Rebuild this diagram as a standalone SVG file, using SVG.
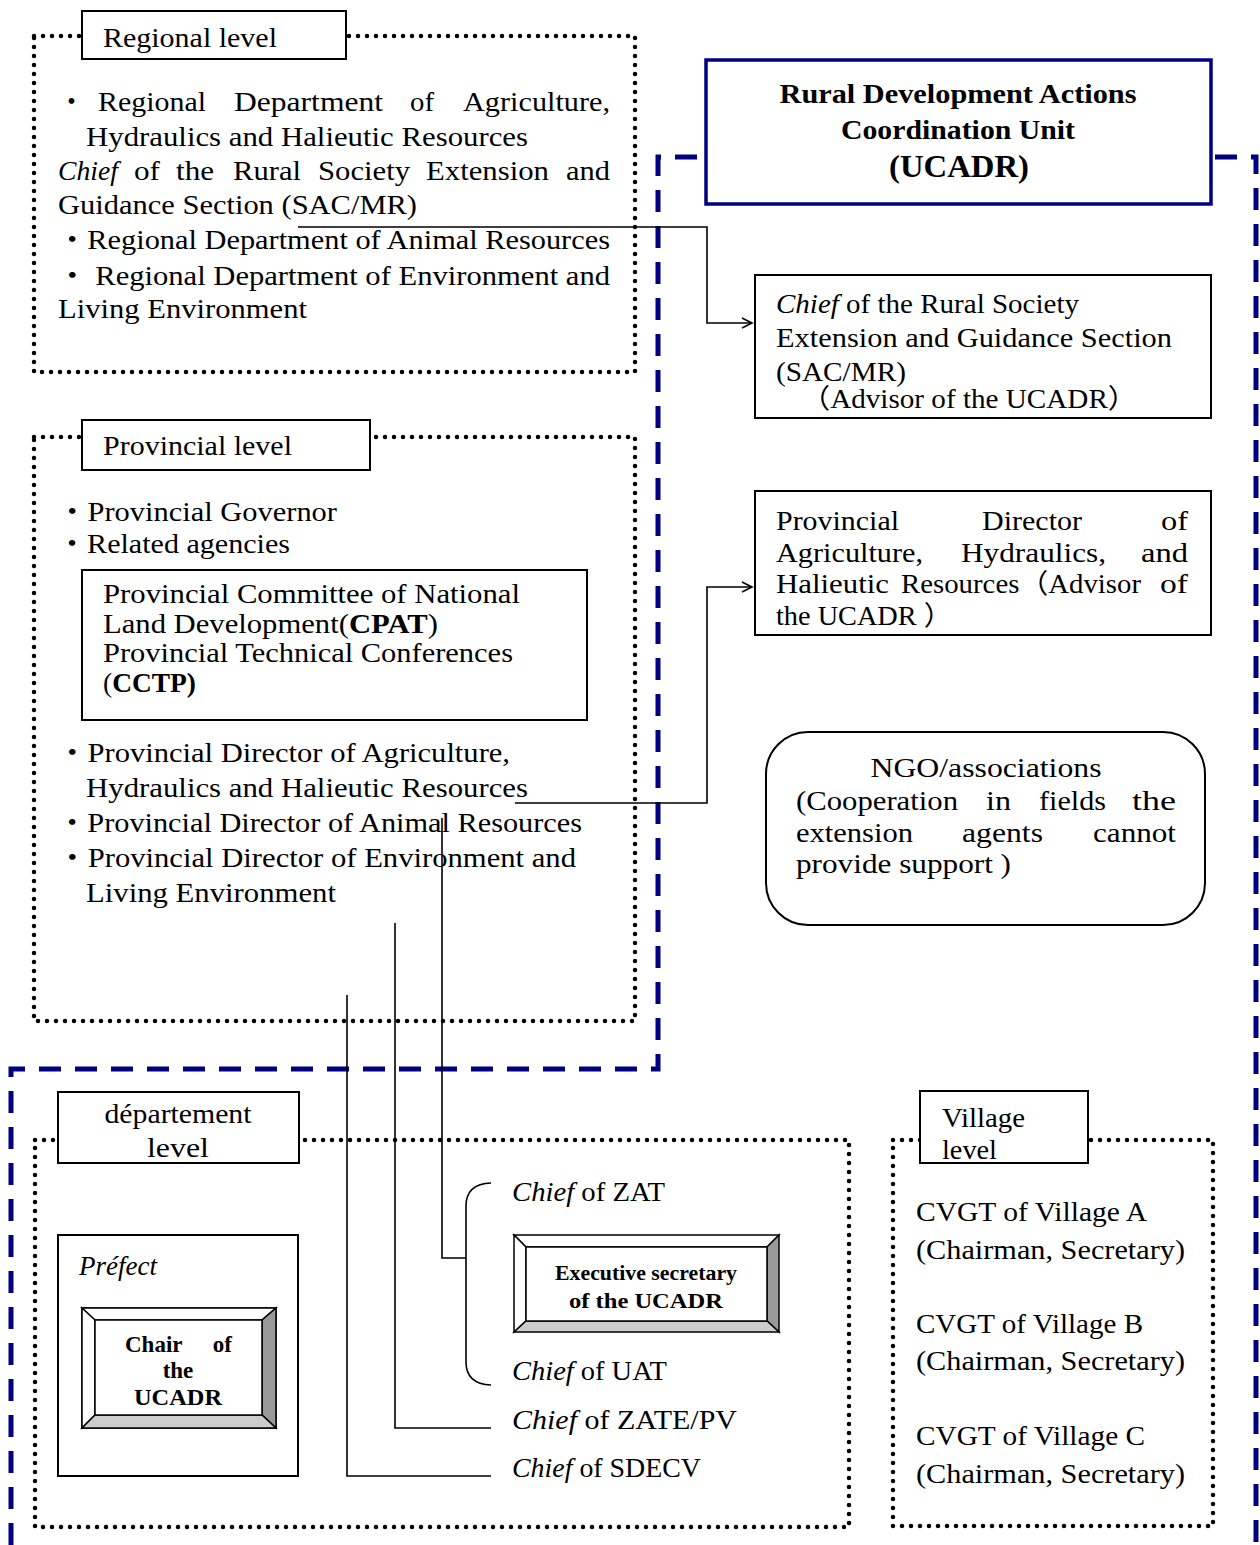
<svg xmlns="http://www.w3.org/2000/svg" width="1260" height="1545" viewBox="0 0 1260 1545">
<style>
.t{font-family:"Liberation Serif","Noto Sans CJK JP",serif;font-size:27px;fill:#000}
.b{font-weight:bold}
.i{font-style:italic}
.dot{fill:none;stroke:#000;stroke-width:4.5;stroke-dasharray:0 9;stroke-linecap:round}
.lab{fill:#fff;stroke:#000;stroke-width:2}
.box{fill:#fff;stroke:#000;stroke-width:2}
.con{fill:none;stroke:#000;stroke-width:1.6}
.blue{fill:none;stroke:#000080;stroke-width:5;stroke-dasharray:22 14}
.bv{stroke:#000;stroke-width:1.5}
</style>
<defs>
<marker id="arr" markerUnits="userSpaceOnUse" markerWidth="14" markerHeight="14" refX="11" refY="6" orient="auto">
<path d="M1,1 L11,6 L1,11" fill="none" stroke="#000" stroke-width="1.6"/>
</marker>
<clipPath id="cDept"><rect x="58" y="1092" width="241" height="68"/></clipPath>
<clipPath id="cVil"><rect x="920" y="1091" width="168" height="69"/></clipPath>
</defs>
<rect width="1260" height="1545" fill="#fff"/>

<g id="ucadr-frame">
<path class="blue" d="M11,1545 V1069 H658 V157 H1256 V1545"/>
</g>

<g id="regional-level">
<rect class="dot" x="34" y="36" width="601" height="336"/>
<rect class="lab" x="82" y="11" width="264" height="48"/>
<text class="t" x="103" y="47" textLength="174" lengthAdjust="spacingAndGlyphs">Regional level</text>
<text class="t" x="58" y="111">・</text>
<text class="t" x="98" y="111" textLength="108" lengthAdjust="spacingAndGlyphs">Regional</text>
<text class="t" x="234" y="111" textLength="149" lengthAdjust="spacingAndGlyphs">Department</text>
<text class="t" x="410" y="111" textLength="24" lengthAdjust="spacingAndGlyphs">of</text>
<text class="t" x="463" y="111" textLength="147" lengthAdjust="spacingAndGlyphs">Agriculture,</text>
<text class="t" x="86" y="146" textLength="442" lengthAdjust="spacingAndGlyphs">Hydraulics and Halieutic Resources</text>
<text class="t i" x="58" y="180" textLength="60" lengthAdjust="spacingAndGlyphs">Chief</text>
<text class="t" x="134" y="180" textLength="26" lengthAdjust="spacingAndGlyphs">of</text>
<text class="t" x="176" y="180" textLength="38" lengthAdjust="spacingAndGlyphs">the</text>
<text class="t" x="233" y="180" textLength="68" lengthAdjust="spacingAndGlyphs">Rural</text>
<text class="t" x="318" y="180" textLength="92" lengthAdjust="spacingAndGlyphs">Society</text>
<text class="t" x="426" y="180" textLength="123" lengthAdjust="spacingAndGlyphs">Extension</text>
<text class="t" x="566" y="180" textLength="44" lengthAdjust="spacingAndGlyphs">and</text>
<text class="t" x="58" y="214" textLength="359" lengthAdjust="spacingAndGlyphs">Guidance Section (SAC/MR)</text>
<text class="t" x="57" y="249" textLength="553" lengthAdjust="spacingAndGlyphs">・Regional Department of Animal Resources</text>
<text class="t" x="57" y="285" textLength="553" lengthAdjust="spacingAndGlyphs">・ Regional Department of Environment and</text>
<text class="t" x="58" y="318" textLength="249" lengthAdjust="spacingAndGlyphs">Living Environment</text>
</g>

<g id="provincial-level">
<rect class="dot" x="34" y="437" width="601" height="584"/>
<rect class="lab" x="82" y="420" width="288" height="50"/>
<text class="t" x="103" y="455" textLength="189" lengthAdjust="spacingAndGlyphs">Provincial level</text>
<text class="t" x="57" y="521" textLength="280" lengthAdjust="spacingAndGlyphs">・Provincial Governor</text>
<text class="t" x="57" y="553" textLength="233" lengthAdjust="spacingAndGlyphs">・Related agencies</text>
<text class="t" x="57" y="762" textLength="453" lengthAdjust="spacingAndGlyphs">・Provincial Director of Agriculture,</text>
<text class="t" x="86" y="797" textLength="442" lengthAdjust="spacingAndGlyphs">Hydraulics and Halieutic Resources</text>
<text class="t" x="57" y="832" textLength="525" lengthAdjust="spacingAndGlyphs">・Provincial Director of Animal Resources</text>
<text class="t" x="57" y="867" textLength="519" lengthAdjust="spacingAndGlyphs">・Provincial Director of Environment and</text>
<text class="t" x="86" y="902" textLength="250" lengthAdjust="spacingAndGlyphs">Living Environment</text>
</g>

<g id="cpat-cctp">
<rect class="box" x="82" y="570" width="505" height="150"/>
<text class="t" x="103" y="603" textLength="417" lengthAdjust="spacingAndGlyphs">Provincial Committee of National</text>
<text class="t" x="103" y="633" textLength="335" lengthAdjust="spacingAndGlyphs">Land Development(<tspan class="b">CPAT</tspan>)</text>
<text class="t" x="103" y="662" textLength="410" lengthAdjust="spacingAndGlyphs">Provincial Technical Conferences</text>
<text class="t" x="103" y="692" textLength="93" lengthAdjust="spacingAndGlyphs">(<tspan class="b">CCTP)</tspan></text>
</g>

<g id="ucadr">
<rect x="706" y="60" width="505" height="144" fill="#fff" stroke="#000080" stroke-width="3.5"/>
<text class="t b" x="958" y="103" text-anchor="middle" textLength="357" lengthAdjust="spacingAndGlyphs">Rural Development Actions</text>
<text class="t b" x="958" y="139" text-anchor="middle" textLength="234" lengthAdjust="spacingAndGlyphs">Coordination Unit</text>
<text class="t b" x="959" y="177" text-anchor="middle" style="font-size:31px" textLength="140" lengthAdjust="spacingAndGlyphs">(UCADR)</text>
</g>

<g id="sac-mr-advisor">
<rect class="box" x="755" y="275" width="456" height="143"/>
<text class="t" x="776" y="313" textLength="303" lengthAdjust="spacingAndGlyphs"><tspan class="i">Chief</tspan> of the Rural Society</text>
<text class="t" x="776" y="347" textLength="396" lengthAdjust="spacingAndGlyphs">Extension and Guidance Section</text>
<text class="t" x="776" y="381" textLength="130" lengthAdjust="spacingAndGlyphs">(SAC/MR)</text>
<text class="t" x="801" y="408" textLength="336" lengthAdjust="spacingAndGlyphs">（Advisor of the UCADR）</text>
</g>

<g id="provincial-director-advisor">
<rect class="box" x="755" y="491" width="456" height="144"/>
<text class="t" x="776" y="530" textLength="123" lengthAdjust="spacingAndGlyphs">Provincial</text>
<text class="t" x="982" y="530" textLength="100" lengthAdjust="spacingAndGlyphs">Director</text>
<text class="t" x="1161" y="530" textLength="27" lengthAdjust="spacingAndGlyphs">of</text>
<text class="t" x="776" y="562" textLength="147" lengthAdjust="spacingAndGlyphs">Agriculture,</text>
<text class="t" x="961" y="562" textLength="145" lengthAdjust="spacingAndGlyphs">Hydraulics,</text>
<text class="t" x="1141" y="562" textLength="47" lengthAdjust="spacingAndGlyphs">and</text>
<text class="t" x="776" y="593" textLength="113" lengthAdjust="spacingAndGlyphs">Halieutic</text>
<text class="t" x="901" y="593" textLength="240" lengthAdjust="spacingAndGlyphs">Resources（Advisor</text>
<text class="t" x="1160" y="593" textLength="28" lengthAdjust="spacingAndGlyphs">of</text>
<text class="t" x="776" y="625" textLength="176" lengthAdjust="spacingAndGlyphs">the UCADR ）</text>
</g>

<g id="ngo">
<rect class="box" x="766" y="732" width="439" height="193" rx="42" ry="42"/>
<text class="t" x="986" y="777" text-anchor="middle" textLength="231" lengthAdjust="spacingAndGlyphs">NGO/associations</text>
<text class="t" x="796" y="810" textLength="162" lengthAdjust="spacingAndGlyphs">(Cooperation</text>
<text class="t" x="986" y="810" textLength="25" lengthAdjust="spacingAndGlyphs">in</text>
<text class="t" x="1039" y="810" textLength="67" lengthAdjust="spacingAndGlyphs">fields</text>
<text class="t" x="1132" y="810" textLength="44" lengthAdjust="spacingAndGlyphs">the</text>
<text class="t" x="796" y="842" textLength="117" lengthAdjust="spacingAndGlyphs">extension</text>
<text class="t" x="962" y="842" textLength="81" lengthAdjust="spacingAndGlyphs">agents</text>
<text class="t" x="1093" y="842" textLength="83" lengthAdjust="spacingAndGlyphs">cannot</text>
<text class="t" x="796" y="873" textLength="215" lengthAdjust="spacingAndGlyphs">provide support )</text>
</g>

<g id="department-level">
<rect class="dot" x="35" y="1140" width="814" height="387"/>
<rect class="lab" x="58" y="1092" width="241" height="71"/>
<text class="t" x="178" y="1123" text-anchor="middle" textLength="147" lengthAdjust="spacingAndGlyphs">département</text>
<text class="t" x="178" y="1157" text-anchor="middle" textLength="62" lengthAdjust="spacingAndGlyphs" clip-path="url(#cDept)">level</text>
</g>

<g id="prefect">
<rect class="box" x="58" y="1235" width="240" height="241"/>
<text class="t i" x="79" y="1275" textLength="78" lengthAdjust="spacingAndGlyphs">Préfect</text>
</g>

<g id="chair-ucadr">
<rect x="82" y="1308" width="194" height="120" fill="#fff" class="bv"/>
<polygon class="bv" fill="#fff" points="82,1308 276,1308 262,1320 95,1320"/>
<polygon class="bv" fill="#fff" points="82,1308 95,1320 95,1415 82,1428"/>
<polygon class="bv" fill="#999" points="276,1308 276,1428 262,1415 262,1320"/>
<polygon class="bv" fill="#ccc" points="82,1428 276,1428 262,1415 95,1415"/>
<rect x="95" y="1320" width="167" height="95" fill="#fff" class="bv"/>
<text class="t b" x="125" y="1352" style="font-size:23px">Chair</text>
<text class="t b" x="232" y="1352" text-anchor="end" style="font-size:23px">of</text>
<text class="t b" x="178" y="1378" text-anchor="middle" style="font-size:23px">the</text>
<text class="t b" x="178" y="1405" text-anchor="middle" style="font-size:23px" textLength="88" lengthAdjust="spacingAndGlyphs">UCADR</text>
</g>

<g id="executive-secretary">
<polygon class="bv" fill="#fff" points="514,1235 779,1235 767,1247 526,1247"/>
<polygon class="bv" fill="#fff" points="514,1235 526,1247 526,1321 514,1332"/>
<polygon class="bv" fill="#999" points="779,1235 779,1332 767,1321 767,1247"/>
<polygon class="bv" fill="#ccc" points="514,1332 779,1332 767,1321 526,1321"/>
<rect x="526" y="1247" width="241" height="74" fill="#fff" class="bv"/>
<text class="t b" x="646" y="1280" text-anchor="middle" style="font-size:20px" textLength="182" lengthAdjust="spacingAndGlyphs">Executive secretary</text>
<text class="t b" x="646" y="1308" text-anchor="middle" style="font-size:20px" textLength="154" lengthAdjust="spacingAndGlyphs">of the UCADR</text>
</g>

<g id="chiefs">
<text class="t" x="512" y="1201" textLength="153" lengthAdjust="spacingAndGlyphs"><tspan class="i">Chief</tspan> of ZAT</text>
<text class="t" x="512" y="1380" textLength="155" lengthAdjust="spacingAndGlyphs"><tspan class="i">Chief</tspan> of UAT</text>
<text class="t" x="512" y="1429" textLength="225" lengthAdjust="spacingAndGlyphs"><tspan class="i">Chief</tspan> of ZATE/PV</text>
<text class="t" x="512" y="1477" textLength="189" lengthAdjust="spacingAndGlyphs"><tspan class="i">Chief</tspan> of SDECV</text>
</g>

<g id="village-level">
<rect class="dot" x="893" y="1140" width="320" height="386"/>
<rect class="lab" x="920" y="1091" width="168" height="72"/>
<text class="t" x="942" y="1127" textLength="83" lengthAdjust="spacingAndGlyphs">Village</text>
<text class="t" x="942" y="1159" textLength="55" lengthAdjust="spacingAndGlyphs" clip-path="url(#cVil)">level</text>
<text class="t" x="916" y="1221" textLength="231" lengthAdjust="spacingAndGlyphs">CVGT of Village A</text>
<text class="t" x="916" y="1259" textLength="269" lengthAdjust="spacingAndGlyphs">(Chairman, Secretary)</text>
<text class="t" x="916" y="1333" textLength="227" lengthAdjust="spacingAndGlyphs">CVGT of Village B</text>
<text class="t" x="916" y="1370" textLength="269" lengthAdjust="spacingAndGlyphs">(Chairman, Secretary)</text>
<text class="t" x="916" y="1445" textLength="229" lengthAdjust="spacingAndGlyphs">CVGT of Village C</text>
<text class="t" x="916" y="1483" textLength="269" lengthAdjust="spacingAndGlyphs">(Chairman, Secretary)</text>
</g>

<g id="connectors">
<path class="con" d="M298,227 H707 V323 H752" marker-end="url(#arr)"/>
<path class="con" d="M515,803 H707 V587 H752" marker-end="url(#arr)"/>
<path class="con" d="M442,818 V1258 H466"/>
<path class="con" d="M491,1183 Q466,1184 466,1206 V1362 Q466,1384 491,1385"/>
<path class="con" d="M395,923 V1428 H491"/>
<path class="con" d="M347,995 V1476 H491"/>
</g>
</svg>
